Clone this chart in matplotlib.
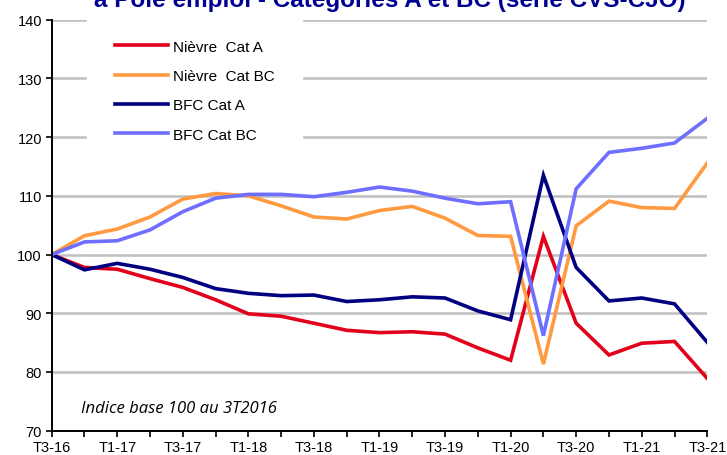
import matplotlib
matplotlib.use("Agg")
import matplotlib.pyplot as plt

plt.rcParams['font.family'] = ['Liberation Sans', 'DejaVu Sans']

quarters = ["T3-16", "T4-16", "T1-17", "T2-17", "T3-17", "T4-17", "T1-18", "T2-18",
            "T3-18", "T4-18", "T1-19", "T2-19", "T3-19", "T4-19", "T1-20", "T2-20",
            "T3-20", "T4-20", "T1-21", "T2-21", "T3-21"]

nievre_a = [100, 97.8, 97.5, 95.9, 94.4, 92.3, 89.9, 89.5, 88.3, 87.1, 86.7, 86.85,
            86.45, 84.1, 82.0, 103.1, 88.3, 82.9, 84.9, 85.2, 78.9]
nievre_bc = [100, 103.2, 104.35, 106.4, 109.45, 110.4, 110.0, 108.3, 106.4, 106.05, 107.5,
             108.2, 106.2, 103.25, 103.1, 81.35, 104.9, 109.1, 108.0, 107.85, 115.6]
bfc_a = [100, 97.4, 98.5, 97.5, 96.1, 94.2, 93.4, 93.0, 93.1, 92.0, 92.3, 92.8,
         92.6, 90.4, 88.9, 113.5, 97.8, 92.1, 92.6, 91.6, 85.05]
bfc_bc = [100, 102.15, 102.35, 104.2, 107.3, 109.6, 110.25, 110.25, 109.85, 110.6, 111.5,
          110.8, 109.6, 108.65, 109.0, 86.2, 111.2, 117.4, 118.1, 119.0, 123.2]

fig = plt.figure(figsize=(7.27, 4.56), dpi=100)
ax = fig.add_axes([0.0711, 0.0533, 0.9018, 0.9013])

x = range(len(quarters))
ax.plot(x, nievre_a, color="#E2001A", lw=2.6, label="Nièvre  Cat A", solid_joinstyle="miter")
ax.plot(x, nievre_bc, color="#FF9A40", lw=2.6, label="Nièvre  Cat BC", solid_joinstyle="miter")
ax.plot(x, bfc_a, color="#000080", lw=2.6, label="BFC Cat A", solid_joinstyle="miter")
ax.plot(x, bfc_bc, color="#6E6EFF", lw=2.6, label="BFC Cat BC", solid_joinstyle="miter")

ax.set_xlim(0, len(quarters) - 1)
ax.set_ylim(70, 140)
ax.set_yticks(range(70, 141, 10))
ax.set_xticks(list(x))
ax.set_xticklabels([q if i % 2 == 0 else "" for i, q in enumerate(quarters)])
ax.tick_params(axis="both", direction="out", length=4, width=1.2, labelsize=10.5, pad=3)
ax.yaxis.grid(True, color="#BFBFBF", lw=1.8)
ax.set_axisbelow(True)
for s in ["top", "right"]:
    ax.spines[s].set_visible(False)
ax.spines["left"].set_linewidth(1.4)
ax.spines["bottom"].set_linewidth(1.4)

leg = ax.legend(loc="upper left", bbox_to_anchor=(0.054, 1.018), frameon=True,
                fontsize=11, handlelength=3.5, handletextpad=0.33, labelspacing=1.0,
                borderpad=1.8, borderaxespad=0)
leg.get_frame().set_facecolor("white")
leg.get_frame().set_edgecolor("white")
leg.get_frame().set_alpha(1)
leg.get_frame().set_boxstyle("square", pad=0)
for l in leg.get_lines():
    l.set_linewidth(2.6)

ax.text(0.045, 0.055, "Indice base 100 au 3T2016", transform=ax.transAxes,
        fontsize=12, style="italic", family=["Open Sans", "DejaVu Sans"], va="center")

fig.text(0.536, 0.984, "à Pôle emploi - Catégories A et BC (série CVS-CJO)",
         ha="center", va="baseline", fontsize=17.5, fontweight="bold", color="#000090")

fig.savefig("out.png", dpi=100)
